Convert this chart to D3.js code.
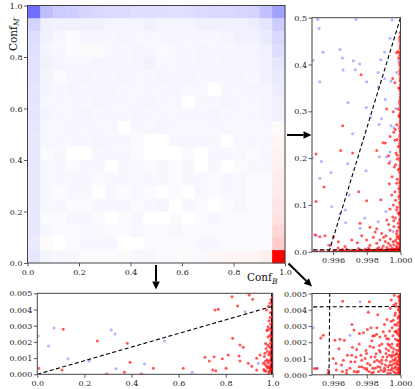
<!DOCTYPE html>
<html><head><meta charset="utf-8">
<script src="https://cdn.jsdelivr.net/npm/d3@7"></script>
<style>body{margin:0;background:#fff}svg{display:block}text{font-family:"DejaVu Serif",serif}</style>
</head><body><svg id="c" width="415" height="389"></svg>
<script>
// ---------- DATA ----------
const heatRows = [
[-0.57,-0.25,-0.2,-0.19,-0.17,-0.15,-0.14,-0.14,-0.13,-0.13,-0.13,-0.12,-0.13,-0.14,-0.15,-0.15,-0.16,-0.17,-0.24,-0.37],
[-0.17,-0.06,-0.05,-0.05,-0.05,-0.05,-0.04,-0.04,-0.04,-0.05,-0.04,-0.04,-0.04,-0.05,-0.05,-0.05,-0.05,-0.07,-0.1,-0.2],
[-0.13,-0.05,-0.03,-0.02,-0.03,-0.03,-0.03,-0.04,-0.03,-0.03,-0.03,-0.04,-0.03,-0.03,-0.03,-0.04,-0.05,-0.05,-0.08,-0.15],
[-0.12,-0.04,-0.03,-0.01,-0.01,-0.01,-0.03,-0.03,-0.04,-0.03,-0.02,-0.03,-0.03,-0.04,-0.03,-0.03,-0.04,-0.04,-0.06,-0.13],
[-0.11,-0.05,-0.04,-0.03,-0.03,-0.04,-0.03,-0.03,-0.04,-0.05,-0.03,-0.03,-0.03,-0.04,-0.03,-0.04,-0.03,-0.04,-0.05,-0.1],
[-0.11,-0.04,-0.02,-0.03,-0.04,-0.03,-0.03,-0.04,-0.03,-0.03,-0.04,-0.03,-0.04,-0.03,-0.03,-0.03,-0.04,-0.03,-0.05,-0.08],
[-0.1,-0.04,-0.03,-0.04,-0.03,-0.03,-0.04,-0.03,-0.03,-0.03,-0.03,-0.04,-0.03,-0.03,0,-0.03,-0.03,-0.04,-0.04,-0.07],
[-0.1,-0.03,-0.03,-0.03,-0.03,-0.04,-0.03,-0.03,-0.03,-0.04,-0.03,-0.03,0,-0.03,-0.03,-0.04,-0.03,-0.03,-0.04,-0.06],
[-0.1,-0.04,-0.03,-0.03,-0.04,-0.03,-0.03,-0.03,-0.04,-0.03,-0.03,-0.03,-0.03,-0.03,-0.04,-0.03,-0.03,-0.03,-0.04,-0.05],
[-0.1,-0.03,-0.03,-0.04,-0.03,-0.03,-0.03,0,-0.03,-0.03,-0.04,-0.03,-0.03,-0.03,-0.03,-0.03,-0.03,-0.03,-0.03,0.02],
[-0.09,-0.03,-0.03,-0.03,-0.03,-0.04,-0.03,-0.03,-0.02,0,0,-0.03,-0.03,-0.03,-0.03,0,-0.03,-0.03,-0.03,0.04],
[-0.09,-0.02,-0.03,0,0,-0.03,-0.03,-0.03,-0.02,0,0,0,-0.02,0,-0.03,-0.03,-0.03,-0.02,-0.03,0.05],
[-0.09,-0.03,-0.03,-0.02,-0.03,-0.03,0,-0.03,-0.03,-0.02,-0.03,-0.02,-0.03,0,-0.03,0,-0.02,-0.03,-0.03,0.06],
[-0.09,-0.03,-0.03,-0.03,-0.03,-0.02,-0.03,-0.03,-0.03,-0.03,-0.03,-0.02,-0.03,-0.03,-0.02,-0.03,-0.03,-0.02,-0.02,0.07],
[-0.09,-0.03,-0.02,-0.03,-0.03,0,-0.03,-0.02,-0.03,-0.02,0,-0.02,0,-0.03,-0.02,-0.03,-0.03,-0.02,-0.02,0.08],
[-0.09,-0.03,-0.03,-0.02,-0.02,-0.03,-0.03,-0.03,-0.02,-0.03,-0.04,0,-0.03,-0.02,0,-0.02,-0.03,-0.02,-0.02,0.1],
[-0.09,-0.02,-0.02,-0.03,-0.03,-0.02,0,-0.02,-0.03,0,0,-0.02,0,-0.02,-0.03,-0.02,-0.02,-0.02,-0.02,0.11],
[-0.09,-0.03,-0.02,-0.02,-0.03,-0.03,-0.02,-0.02,-0.03,-0.02,-0.02,-0.03,-0.02,-0.02,-0.02,-0.02,-0.02,-0.02,-0.02,0.16],
[-0.08,0.02,0,-0.02,-0.03,-0.03,-0.03,0,0,-0.02,-0.02,-0.02,-0.02,-0.03,-0.03,-0.02,-0.02,-0.02,-0.02,0.2],
[-0.1,-0.04,-0.03,-0.03,-0.02,0.02,-0.02,0.02,-0.03,-0.03,-0.02,-0.02,0.02,-0.02,0.03,0.04,0.03,0.04,0.06,1.0]
];
const mainTicks = [0, 0.2, 0.4, 0.6, 0.8, 1.0];
const zoomXTicks = [0.996, 0.998, 1.000];
const rightYTicks = [0, 0.1, 0.2, 0.3, 0.4, 0.5];
const smallYTicks = [0, 0.001, 0.002, 0.003, 0.004, 0.005];
const thresholdX = 0.99576;
const thresholdY = 0.0042;

// red points
const redRight = [
[0.99499,0.209],[0.99645,0.216],[0.99716,0.211],[0.99546,0.138],[0.99499,0.107],[0.99752,0.128],[0.99799,0.109],
[0.99859,0.216],[0.99896,0.233],[0.99938,0.246],[0.99967,0.238],[0.99973,0.211],[0.99932,0.189],[0.99963,0.181],
[0.99934,0.145],[0.99967,0.128],[0.99948,0.121],[0.99883,0.111],[0.9976,0.061],[0.99819,0.052],[0.99859,0.049],
[0.99888,0.039],[0.99918,0.068],[0.99954,0.074],[0.99493,0.036],[0.99552,0.034],[0.99601,0.032],[0.99631,0.021],
[0.99711,0.025],[0.99744,0.019],[0.99799,0.025],[0.99839,0.031],[0.99878,0.025],[0.99914,0.034],[0.99938,0.046],
[0.99961,0.054],[0.99977,0.039],[0.99928,0.018],[0.99957,0.021],[0.99981,0.029],[0.99987,0.061],[0.99977,0.089],
[0.99957,0.1],[0.99938,0.091],[0.99977,0.146],[0.99987,0.175],[0.99981,0.198],[0.99987,0.225],[0.99582,0.014],
[0.9967,0.011],[0.99819,0.014],[0.99898,0.012],[0.99977,0.012],[0.99859,0.018],[0.9977,0.034],[0.99522,0.032],
[0.99766,0.378],[0.99657,0.269],[0.99985,0.428],[0.99954,0.37],[0.99918,0.305],[0.99957,0.299],[0.99987,0.305],
[0.99977,0.271],[0.99969,0.261],[0.99977,0.425],[0.99989,0.414],[0.99967,0.361],[0.9999,0.35],[0.9999,0.29],
[0.9995,0.008],[0.9997,0.006],[0.9992,0.009],[0.9989,0.007],[0.9986,0.006],[0.9981,0.008],[0.9975,0.007],
[0.9968,0.006],[0.9963,0.008],[0.9996,0.015],[0.9998,0.019],[0.9994,0.027],[0.9990,0.031],[0.9993,0.058],
[0.9998,0.045],[0.9999,0.082],[0.9996,0.066],[0.9985,0.042],[0.9991,0.022],[0.9997,0.11],[0.9999,0.135],
[0.9995,0.16],[0.9998,0.155],[0.9993,0.205],[0.9998,0.24],[0.9996,0.255],[0.9991,0.232],
[0.9994,0.013],[0.9997,0.024],[0.9999,0.017],[0.9998,0.009],[0.9993,0.006],[0.9987,0.009],[0.9979,0.006],
[0.9998,0.033],[0.9999,0.052],[0.9997,0.072],[0.9998,0.095],[0.9999,0.118],[0.9997,0.186],[0.9998,0.206]
];
const redEdgeY = [0.468,0.452,0.441,0.433,0.419,0.405,0.397,0.386,0.372,0.364,0.351,0.343,0.331,0.322,0.314,0.302,
0.293,0.281,0.274,0.263,0.252,0.244,0.231,0.222,0.213,0.201,0.192,0.183,0.171,0.162,0.153,0.141,0.132,0.124,
0.113,0.101,0.093,0.084,0.072,0.063,0.054,0.046,0.037,0.028,0.019,0.011,0.007,
0.461,0.447,0.426,0.412,0.391,0.378,0.357,0.337,0.318,0.297,0.286,0.268,0.257,0.236,0.226,0.207,0.187,0.177,
0.157,0.146,0.128,0.108,0.097,0.078,0.067,0.049,0.033,0.023,0.014,
0.457,0.437,0.423,0.401,0.382,0.368,0.347,0.327,0.309,0.289,0.277,0.259,0.248,0.239,0.218,0.196,0.179,0.167,
0.149,0.136,0.119,0.104,0.088,0.081,0.069,0.058,0.041,0.031,0.025,0.016,0.009];
const redBottom = [
[0.11,0.00278],[0.255,0.00205],[0.382,0.00191],[0.394,0.00074],[0.006,0.00037],[0.105,0.00027],[0.295,0.00002],
[0.37,0.00012],[0.443,0.00002],[0.827,0.00479],[0.9,0.00489],[0.915,0.00463],[0.851,0.00421],[0.755,0.00397],
[0.769,0.00401],[0.989,0.00438],[0.974,0.00397],[0.981,0.00294],[0.978,0.00275],[0.83,0.00222],[0.861,0.00181],
[0.875,0.00167],[0.712,0.00105],[0.751,0.00109],[0.786,0.00096],[0.731,0.00082],[0.811,0.00119],[0.857,0.00113],
[0.861,0.00082],[0.896,0.00068],[0.932,0.00099],[0.946,0.00119],[0.62,0.00037],[0.493,0.00037],[0.745,0.00027],
[0.758,0.00022],[0.802,0.00037],[0.911,0.00049],[0.932,0.00027],[0.96,0.00068],[0.972,0.0016],[0.967,0.0013],
[0.962,0.0003],[0.965,0.0011],[0.968,0.0006],[0.97,0.0019],[0.972,0.0002],[0.975,0.0009],[0.977,0.0014],
[0.978,0.0004],[0.98,0.0023],[0.981,0.0007],[0.983,0.0001],[0.984,0.0012],[0.986,0.0017],[0.987,0.0005],
[0.988,0.0028],[0.989,0.0009],[0.99,0.0003],[0.991,0.0014],[0.992,0.0021],[0.993,0.0006],[0.994,0.0011],
[0.985,0.0033],[0.99,0.0038],[0.982,0.0042],[0.993,0.0046],[0.976,0.0027],[0.969,0.0008],[0.991,0.0031],[0.987,0.0024],
[0.979,0.0018],[0.983,0.0008],[0.986,0.0002],[0.988,0.0013],[0.990,0.0019],[0.992,0.0004],[0.994,0.0026],
[0.989,0.0035],[0.993,0.0016],[0.984,0.0004],[0.974,0.0005],[0.966,0.0002]
];
const redCorner = [
[0.99657,0.00453],[0.99815,0.00449],[0.99809,0.00384],[0.99963,0.0049],[0.99712,0.0031],[0.99724,0.00275],
[0.99756,0.00254],[0.9978,0.00258],[0.99803,0.00279],[0.99835,0.00238],[0.99859,0.0025],[0.99878,0.00233],
[0.99898,0.00264],[0.99918,0.00223],[0.99527,0.00227],[0.99542,0.00244],[0.99611,0.00213],[0.99641,0.00219],
[0.99667,0.00213],[0.99489,0.00038],[0.99503,0.00038],[0.99572,0.00028],[0.99617,0.00069],[0.99661,0.00089],
[0.99711,0.0012],[0.9974,0.00155],[0.9977,0.00089],[0.99799,0.00131],[0.99819,0.00176],[0.99849,0.0011],
[0.99874,0.00151],[0.99888,0.00089],[0.99914,0.00131],[0.99934,0.00182],[0.99948,0.0011],[0.99681,0.00028],
[0.9974,0.00017],[0.99799,0.00038],[0.99839,0.00017],[0.99878,0.00048],[0.99908,0.00028],[0.99948,0.00059],
[0.99967,0.00089],[0.99977,0.00151],[0.99981,0.00213],[0.99967,0.00264],[0.99977,0.00305],[0.99957,0.00336],
[0.99967,0.00367],[0.99987,0.00398],[0.99973,0.00439],[0.99987,0.0048],[0.99945,0.0046],[0.9994,0.0041],
[0.9990,0.0002],[0.9991,0.0006],[0.9992,0.0011],[0.9993,0.0003],[0.9993,0.0015],[0.9994,0.0008],[0.9994,0.0001],
[0.9995,0.0004],[0.9995,0.0012],[0.9995,0.0019],[0.9996,0.0007],[0.9996,0.0002],[0.9996,0.0016],[0.9997,0.0005],
[0.9997,0.0010],[0.9997,0.0022],[0.9997,0.0001],[0.9998,0.0003],[0.9998,0.0008],[0.9998,0.0013],[0.9998,0.0018],
[0.9998,0.0026],[0.99985,0.0006],[0.99985,0.0011],[0.99985,0.0032],[0.9999,0.0002],[0.9999,0.0009],[0.9999,0.0015],
[0.9999,0.0021],[0.9999,0.0028],[0.9999,0.0036],[0.99993,0.0004],[0.99993,0.0012],[0.99993,0.0041],[0.99995,0.0007],
[0.99995,0.0017],[0.99995,0.0024],[0.99995,0.0046],[0.99997,0.0001],[0.99997,0.0010],[0.9985,0.0004],[0.9986,0.0009],
[0.9987,0.0002],[0.9988,0.0014],[0.9989,0.0007],[0.9984,0.0017],[0.9983,0.0001],[0.9982,0.0006],[0.998,0.0003],
[0.9979,0.0010],[0.9977,0.0005],[0.9975,0.0002],[0.9973,0.0008],[0.9970,0.0004],[0.9968,0.0001],[0.9965,0.0006],
[0.9962,0.0003],[0.996,0.0010],[0.9957,0.0001],[0.9989,0.0019],[0.9991,0.0024],[0.9986,0.0029],[0.9992,0.0034],
[0.9995,0.0029],[0.9997,0.0038],[0.9996,0.0043],[0.9983,0.0021],[0.9993,0.0022],
[0.99905,0.0004],[0.99915,0.0009],[0.99925,0.0001],[0.99935,0.0006],[0.99945,0.0003],[0.99955,0.0009],
[0.99965,0.0004],[0.99975,0.0007],[0.99985,0.0001],[0.99985,0.0004],[0.99975,0.0013],[0.99965,0.0012],
[0.99955,0.0014],[0.99945,0.0017],[0.99935,0.0012],[0.99925,0.0005],[0.99915,0.0016],[0.99895,0.0011],
[0.99885,0.0003],[0.99875,0.0008],[0.99865,0.0005],[0.99855,0.0013],[0.99845,0.0008],[0.99835,0.0004],
[0.99825,0.0011],[0.99815,0.0002],[0.99805,0.0007],[0.99795,0.0015],[0.99785,0.0004],[0.99765,0.0012],
[0.99755,0.0005],[0.99735,0.0011],[0.99725,0.0002],[0.99705,0.0008],[0.99685,0.0012],[0.99655,0.0002],
[0.99985,0.0019],[0.99975,0.0027],[0.99985,0.0025],[0.99965,0.0031],[0.99985,0.0035],[0.99975,0.0042],
[0.99955,0.0024],[0.99945,0.0033],[0.99935,0.0027],[0.99925,0.0019],[0.99905,0.0031],[0.99875,0.0018],
[0.99865,0.0037],[0.99845,0.0024],[0.99825,0.0029],[0.99755,0.0019],[0.99715,0.0017],[0.99635,0.0016]
];
const redCornerEdgeY = [0.0049,0.00475,0.0046,0.00445,0.0043,0.00415,0.004,0.00385,0.0037,0.00355,0.0034,0.00325,
0.0031,0.00295,0.0028,0.00265,0.0025,0.00235,0.0022,0.00205,0.0019,0.00175,0.0016,0.00145,0.0013,0.00115,0.001,
0.00085,0.0007,0.00055,0.0004,0.00025,0.0001,
0.00483,0.00468,0.00452,0.00437,0.00423,0.00408,0.00392,0.00378,0.00362,0.00347,0.00333,0.00317,0.00302,0.00288,
0.00272,0.00257,0.00243,0.00228,0.00212,0.00197,0.00183,0.00168,0.00152,0.00137,0.00123,0.00107,0.00092,0.00078,
0.00062,0.00047,0.00033,0.00018,0.00005];

const blueRight = [
[0.99509,0.496],[0.99736,0.496],[0.9995,0.495],[0.99517,0.477],[0.9954,0.426],[0.99641,0.432],[0.99655,0.414],
[0.99481,0.409],[0.9972,0.408],[0.99758,0.401],[0.99659,0.388],[0.99732,0.389],[0.99521,0.363],[0.998,0.363],
[0.99938,0.456],[0.99906,0.426],[0.99883,0.41],[0.99989,0.407],[0.99867,0.383],[0.99906,0.37],[0.99944,0.364],
[0.99868,0.352],[0.99977,0.383],[0.99689,0.319],[0.99797,0.308],[0.99823,0.287],[0.99888,0.284],[0.9991,0.325],
[0.99973,0.306],[0.99874,0.272],[0.99944,0.269],[0.99716,0.252],[0.99961,0.265],[0.99477,0.2],[0.9953,0.193],
[0.99522,0.157],[0.99588,0.169],[0.99687,0.188],[0.99795,0.173],[0.99874,0.203],[0.99918,0.203],[0.99938,0.213],
[0.99696,0.121],[0.99673,0.089],[0.99641,0.081],[0.99675,0.062],[0.9976,0.05],[0.99788,0.072],[0.99868,0.064],
[0.99914,0.086],[0.99592,0.096],[0.99503,0.034],[0.99572,0.014],[0.99957,0.043],[0.99985,0.082],[0.99938,0.193]
];
const blueBottom = [
[0.004,0.00236],[0.047,0.00175],[0.071,0.00286],[0.13,0.00096],[0.221,0.00082],[0.314,0.00273],[0.33,0.00249],
[0.334,0.00035],[0.455,0.00064],[0.882,0.00386],[0.54,0.00205],[0.658,0.00012],[0.939,0.00068]
];
const blueCorner = [[0.99483,0.00289],[0.997,0.00244],[0.9976,0.00449],[0.99506,0.00040]];

// ---------- DRAW ----------
const svg = d3.select("#c");
const cmap = d3.scaleLinear().domain([-1, 0, 1]).range(["#0000ff", "#ffffff", "#ff0000"]);
const FS = 8;

// heatmap
const mx = d3.scaleLinear().domain([0, 1]).range([27.5, 285]);
const my = d3.scaleLinear().domain([0, 1]).range([263, 5.5]);
const nBins = heatRows.length;
const cells = [];
heatRows.forEach((row, i) => row.forEach((v, j) => cells.push({i, j, v})));
svg.append("g").selectAll("rect").data(cells).join("rect")
  .attr("x", d => mx(d.j / nBins))
  .attr("y", d => my(1 - d.i / nBins))
  .attr("width", d => mx((d.j + 1) / nBins) - mx(d.j / nBins) + 0.3)
  .attr("height", d => my(1 - (d.i + 1) / nBins) - my(1 - d.i / nBins) + 0.3)
  .attr("fill", d => cmap(d.v));

function styleAxis(g) {
  g.select(".domain").remove();
  g.selectAll("line").attr("stroke", "#333").attr("stroke-width", 0.8);
  g.selectAll("text").attr("font-size", FS).attr("fill", "#222").attr("font-family", "DejaVu Serif");
}
function frame(x, y, fx0, fx1, fy0, fy1) {
  svg.append("rect").attr("x", x(fx0)).attr("y", y(fy1))
    .attr("width", x(fx1) - x(fx0)).attr("height", y(fy0) - y(fy1))
    .attr("fill", "none").attr("stroke", "#444").attr("stroke-width", 1);
}

svg.append("g").attr("transform", `translate(0,${my(0)})`)
  .call(d3.axisBottom(mx).tickValues(mainTicks).tickSize(3.5).tickPadding(2.5).tickFormat(d3.format(".1f"))).call(styleAxis);
svg.append("g").attr("transform", `translate(${mx(0)},0)`)
  .call(d3.axisLeft(my).tickValues(mainTicks).tickSize(3.5).tickPadding(1.5).tickFormat(d3.format(".1f"))).call(styleAxis);
frame(mx, my, 0, 1, 0, 1);

// axis labels
const yl = svg.append("text").attr("transform", "translate(16.5,51) rotate(-90)").attr("font-size", 10.5).attr("fill", "#111");
yl.append("tspan").text("Conf");
yl.append("tspan").attr("font-size", 7.5).attr("font-style", "italic").attr("dy", 2.5).text("M′");
const xl = svg.append("text").attr("x", 247).attr("y", 281).attr("font-size", 10.5).attr("fill", "#111");
xl.append("tspan").text("Conf");
xl.append("tspan").attr("font-size", 7.5).attr("font-style", "italic").attr("dy", 2.5).text("B");

// scatter panels
const allRed = redRight.concat(redEdgeY.map((y, k) => [[0.99998, 0.99995, 0.99999][k % 3], y]), redBottom, redCorner,
  redCornerEdgeY.map((y, k) => [k % 2 ? 0.99997 : 0.99999, y]));
const allBlue = blueRight.concat(blueBottom, blueCorner);

function panel(id, xd, yd, xr, yr, xt, yt, xf, yf, ypad) {
  const x = d3.scaleLinear().domain(xd).range(xr);
  const y = d3.scaleLinear().domain(yd).range(yr);
  svg.append("clipPath").attr("id", id).append("rect")
    .attr("x", xr[0]).attr("y", yr[1]).attr("width", xr[1] - xr[0]).attr("height", yr[0] - yr[1]);
  const g = svg.append("g").attr("clip-path", `url(#${id})`);
  g.selectAll("circle.b").data(allBlue).join("circle").attr("class", "b")
    .attr("cx", d => x(d[0])).attr("cy", d => y(d[1])).attr("r", 1.5)
    .attr("fill", "#0000ff").attr("fill-opacity", 0.3);
  g.selectAll("circle.r").data(allRed).join("circle").attr("class", "r")
    .attr("cx", d => x(d[0])).attr("cy", d => y(d[1])).attr("r", 1.5)
    .attr("fill", "#ff0000").attr("fill-opacity", 0.65);
  const line = d3.line().x(d => x(d[0])).y(d => y(d[1]));
  g.append("path").attr("d", line([[0, 0], [1, thresholdY]]))
    .attr("stroke", "#000").attr("stroke-width", 1.1).attr("stroke-dasharray", "4,2.5").attr("fill", "none");
  g.append("path").attr("d", line([[thresholdX, 0], [1, 0.5]]))
    .attr("stroke", "#000").attr("stroke-width", 1.1).attr("stroke-dasharray", "4,2.5").attr("fill", "none");
  svg.append("g").attr("transform", `translate(0,${yr[0]})`)
    .call(d3.axisBottom(x).tickValues(xt).tickSize(3.5).tickPadding(2.5).tickFormat(xf)).call(styleAxis);
  svg.append("g").attr("transform", `translate(${xr[0]},0)`)
    .call(d3.axisLeft(y).tickValues(yt).tickSize(3.5).tickPadding(ypad).tickFormat(yf)).call(styleAxis);
  frame(x, y, xd[0], xd[1], yd[0], yd[1]);
}
panel("cpR", [0.99475, 1.0], [0, 0.5], [312, 400.5], [251.7, 17.7], zoomXTicks, rightYTicks, d3.format(".3f"), d3.format(".1f"), 1.5);
panel("cpB", [0, 1], [0, 0.005], [37.3, 272.7], [374.3, 293.3], mainTicks, smallYTicks, d3.format(".1f"), d3.format(".3f"), 1.5);
panel("cpC", [0.99475, 1.0], [0, 0.005], [312, 400.5], [374.8, 293.5], zoomXTicks, smallYTicks, d3.format(".3f"), d3.format(".3f"), 1.5);

// arrows
function arrow(x1, y1, x2, y2) {
  const ang = Math.atan2(y2 - y1, x2 - x1), L = 8, W = 3.8;
  const bx = x2 - L * Math.cos(ang), by = y2 - L * Math.sin(ang);
  svg.append("line").attr("x1", x1).attr("y1", y1).attr("x2", bx).attr("y2", by)
    .attr("stroke", "#000").attr("stroke-width", 2);
  const px = -Math.sin(ang) * W, py = Math.cos(ang) * W;
  svg.append("path").attr("d", `M${x2},${y2}L${bx + px},${by + py}L${bx - px},${by - py}Z`).attr("fill", "#000");
}
arrow(287, 135, 311.5, 135);
arrow(156, 265, 156, 289.5);
arrow(288.5, 263.5, 312, 286.5);
</script></body></html>
